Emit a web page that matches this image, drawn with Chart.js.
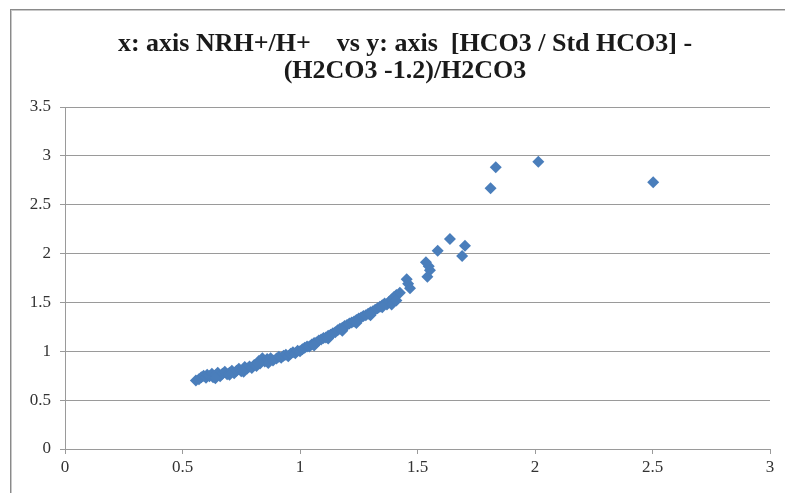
<!DOCTYPE html>
<html>
<head>
<meta charset="utf-8">
<script src="https://cdn.jsdelivr.net/npm/chart.js@4.4.1/dist/chart.umd.min.js"></script>
<style>
  html, body { margin: 0; padding: 0; background: #fff; overflow: hidden; }
  #wrap { position: relative; width: 785px; height: 493px; }
  #frame { position: absolute; left: 10px; top: 9px; width: 800px; height: 520px;
           border-top: 1px solid #8a8a8a; border-left: 1px solid #8a8a8a;
           box-shadow: inset 1px 1px 0 #c8c8c8; pointer-events: none; }
  canvas { position: absolute; left: 0; top: 0; }
</style>
</head>
<body>
<div id="wrap">
  <canvas id="c" width="785" height="493"></canvas>
  <div id="frame"></div>
</div>
<script>
const titleLines = ["x: axis NRH+/H+    vs y: axis  [HCO3 / Std HCO3] -", "(H2CO3 -1.2)/H2CO3"];
const xTicks = [0, 0.5, 1, 1.5, 2, 2.5, 3];
const yTicks = [0, 0.5, 1, 1.5, 2, 2.5, 3, 3.5];

const xValues = [
  0.557, 0.570, 0.580, 0.590, 0.600, 0.605, 0.615, 0.625, 0.630, 0.640,
  0.650, 0.660, 0.670, 0.680, 0.690, 0.700, 0.710, 0.720, 0.730, 0.740,
  0.750, 0.760, 0.765, 0.775, 0.785, 0.795, 0.805, 0.815, 0.825, 0.830,
  0.840, 0.850, 0.860, 0.865, 0.875, 0.885, 0.900, 0.910, 0.920, 0.930,
  0.940, 0.950, 0.960, 0.970, 0.980, 0.990, 1.000, 1.010, 1.020, 1.030,
  1.040, 1.050, 1.060, 1.070, 1.080, 1.090, 1.100, 1.110, 1.120, 1.130,
  1.140, 1.150, 1.160, 1.170, 1.180, 1.190, 1.200, 1.210, 1.220, 1.230,
  1.240, 1.250, 1.260, 1.270, 1.280, 1.290, 1.300, 1.310, 1.320, 1.330,
  1.340, 1.350, 1.360, 1.370, 1.380, 1.390, 1.400, 1.410, 1.425,
  1.454, 1.460, 1.468, 1.536, 1.548, 1.553, 1.542, 1.586, 1.638, 1.702,
  1.690, 1.811, 1.833, 2.014, 2.503,
  0.640, 0.700, 0.760, 0.820, 1.060, 1.120, 1.180, 1.240, 1.300, 1.350,
  1.390, 1.410
];
const yValues = [
  0.700, 0.715, 0.735, 0.750, 0.730, 0.760, 0.745, 0.770, 0.735, 0.755,
  0.780, 0.745, 0.770, 0.790, 0.765, 0.780, 0.800, 0.775, 0.800, 0.820,
  0.795, 0.815, 0.840, 0.825, 0.845, 0.830, 0.860, 0.850, 0.900, 0.875,
  0.930, 0.895, 0.920, 0.880, 0.930, 0.905, 0.925, 0.945, 0.935, 0.955,
  0.965, 0.950, 0.975, 0.990, 0.980, 1.005, 1.000, 1.020, 1.035, 1.050,
  1.050, 1.070, 1.085, 1.090, 1.110, 1.120, 1.135, 1.140, 1.160, 1.170,
  1.185, 1.195, 1.215, 1.230, 1.240, 1.260, 1.270, 1.285, 1.295, 1.305,
  1.320, 1.335, 1.345, 1.360, 1.370, 1.385, 1.400, 1.410, 1.425, 1.440,
  1.455, 1.470, 1.490, 1.480, 1.510, 1.530, 1.555, 1.575, 1.600,
  1.737, 1.690, 1.645, 1.910, 1.870, 1.830, 1.763, 2.030, 2.150, 2.080,
  1.975, 2.668, 2.883, 2.940, 2.729,
  0.725, 0.760, 0.790, 0.875, 1.060, 1.130, 1.210, 1.290, 1.370, 1.450,
  1.480, 1.520
];

const points = xValues.map((x, i) => ({ x: x, y: yValues[i] }));
const labelFont = { family: "'Liberation Serif', 'Times New Roman', serif", size: 17 };

// Draws the two-line chart title centred over the chart frame (Excel style)
const frameTitle = {
  id: 'frameTitle',
  afterDraw(chart) {
    const ctx = chart.ctx;
    ctx.save();
    ctx.font = "bold 26px 'Liberation Serif', 'Times New Roman', serif";
    ctx.fillStyle = '#1a1a1a';
    ctx.textAlign = 'center';
    ctx.textBaseline = 'middle';
    const cx = 405;
    titleLines.forEach((t, i) => ctx.fillText(t, cx, 44 + i * 27));
    ctx.restore();
  }
};

new Chart(document.getElementById('c'), {
  type: 'scatter',
  data: {
    datasets: [{
      data: points,
      pointStyle: 'rectRot',
      pointRadius: 6,
      pointHoverRadius: 6,
      backgroundColor: '#4a7ebb',
      borderColor: '#4a7ebb',
      borderWidth: 0
    }]
  },
  plugins: [frameTitle],
  options: {
    responsive: false,
    animation: false,
    devicePixelRatio: 1,
    layout: { padding: { left: 0, right: 15, top: 107, bottom: 0 } },
    plugins: {
      legend: { display: false },
      tooltip: { enabled: false },
      title: { display: false }
    },
    scales: {
      x: {
        type: 'linear',
        min: 0, max: 3,
        afterBuildTicks: (s) => { s.ticks = xTicks.map(v => ({ value: v })); },
        afterFit: (s) => { s.height = 44; },
        ticks: { color: '#333', font: labelFont, padding: 3, maxRotation: 0, autoSkip: false,
                 callback: (v) => String(v) },
        grid: { display: true, drawOnChartArea: false, drawTicks: true, tickLength: 5, color: '#9a9a9a' },
        border: { display: true, color: '#9a9a9a', width: 1 }
      },
      y: {
        type: 'linear',
        min: 0, max: 3.5,
        afterBuildTicks: (s) => { s.ticks = yTicks.map(v => ({ value: v })); },
        afterFit: (s) => { s.width = 65; },
        ticks: { color: '#333', font: labelFont, padding: 9, autoSkip: false,
                 callback: (v) => String(v) },
        grid: { display: true, drawOnChartArea: true, drawTicks: true, tickLength: 5, color: '#9a9a9a', lineWidth: 1 },
        border: { display: true, color: '#9a9a9a', width: 1 }
      }
    }
  }
});
</script>
</body>
</html>
